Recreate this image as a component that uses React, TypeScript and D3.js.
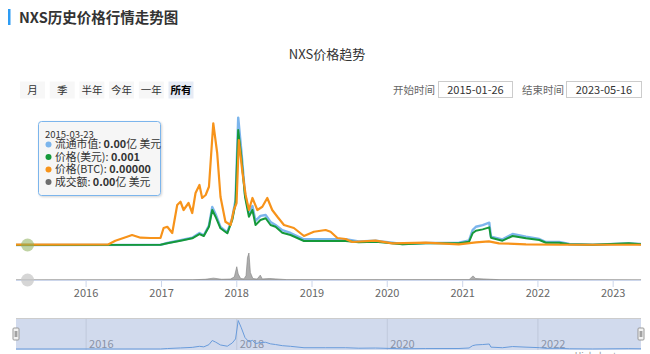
import * as d3 from 'd3';

const capUsdM: [string, number][] = [
  ['2015-01-26', 0.05], ['2016-12-27', 0.4], ['2017-01-29', 8.3], ['2017-04-03', 19.6],
  ['2017-05-30', 30], ['2017-07-04', 50], ['2017-07-25', 40], ['2017-08-19', 81],
  ['2017-09-04', 158], ['2017-09-20', 129], ['2017-10-14', 75], ['2017-11-16', 52],
  ['2017-12-10', 112], ['2017-12-26', 187], ['2018-01-08', 530], ['2018-01-23', 395],
  ['2018-02-10', 212], ['2018-03-01', 133], ['2018-03-18', 162], ['2018-04-02', 100],
  ['2018-04-26', 121], ['2018-05-21', 125], ['2018-06-14', 96], ['2018-07-08', 83],
  ['2018-08-10', 62], ['2018-09-19', 50], ['2018-11-23', 23.7], ['2019-03-08', 23.7],
  ['2019-06-13', 23.7], ['2019-08-16', 14.6], ['2019-11-05', 17.9], ['2020-03-15', 4.2],
  ['2020-07-06', 8.3], ['2020-12-14', 9.2], ['2021-02-01', 18.7], ['2021-02-18', 62],
  ['2021-03-06', 76], ['2021-04-08', 83], ['2021-05-10', 93], ['2021-05-18', 34.5],
  ['2021-07-13', 23.7], ['2021-08-31', 45.8], ['2021-11-04', 34.5], ['2022-01-08', 25],
  ['2022-02-09', 12.5], ['2022-04-14', 12.5], ['2022-06-02', 4.2], ['2022-09-24', 0.8],
  ['2023-03-18', 6.2], ['2023-05-16', 4.2],
];

const priceUsd: [string, number][] = [
  ['2015-01-26', 0.001], ['2016-12-27', 0.01], ['2017-01-29', 0.109], ['2017-04-03', 0.275],
  ['2017-05-30', 0.43], ['2017-07-04', 0.7], ['2017-07-25', 0.576], ['2017-08-19', 1.17],
  ['2017-09-04', 2.24], ['2017-09-20', 1.81], ['2017-10-14', 1.07], ['2017-11-16', 0.749],
  ['2017-12-10', 1.6], ['2017-12-26', 2.67], ['2018-01-08', 7.36], ['2018-01-23', 5.65],
  ['2018-02-10', 3.09], ['2018-03-01', 1.81], ['2018-03-18', 2.24], ['2018-04-02', 1.28],
  ['2018-04-26', 1.6], ['2018-05-21', 1.71], ['2018-06-14', 1.28], ['2018-07-08', 1.17],
  ['2018-08-10', 0.787], ['2018-09-19', 0.64], ['2018-11-23', 0.256], ['2019-03-08', 0.256],
  ['2019-06-13', 0.256], ['2019-08-16', 0.173], ['2019-11-05', 0.211], ['2020-03-15', 0.045],
  ['2020-07-06', 0.109], ['2020-12-14', 0.109], ['2021-02-01', 0.211], ['2021-02-18', 0.749],
  ['2021-03-06', 0.915], ['2021-04-08', 1.0], ['2021-05-10', 1.13], ['2021-05-18', 0.467],
  ['2021-07-13', 0.275], ['2021-08-31', 0.576], ['2021-11-04', 0.43], ['2022-01-08', 0.32],
  ['2022-02-09', 0.147], ['2022-04-14', 0.147], ['2022-06-02', 0.045], ['2022-09-24', 0.01],
  ['2023-03-18', 0.109], ['2023-05-16', 0.045],
];

const priceBtc: [string, number][] = [
  ['2015-01-26', 0.000003], ['2016-04-17', 0.000004], ['2016-05-22', 0.0000344],
  ['2016-07-18', 0.0000664], ['2016-08-11', 0.00008], ['2016-09-21', 0.0000584],
  ['2016-11-08', 0.000056], ['2016-12-27', 0.000056], ['2017-01-11', 0.000136],
  ['2017-01-29', 0.000146], ['2017-02-22', 0.000096], ['2017-03-18', 0.00032],
  ['2017-04-03', 0.000346], ['2017-04-18', 0.00028], ['2017-05-12', 0.000336],
  ['2017-05-30', 0.000256], ['2017-06-15', 0.000416], ['2017-07-04', 0.00048],
  ['2017-07-17', 0.000376], ['2017-08-03', 0.0004], ['2017-08-19', 0.000466],
  ['2017-09-09', 0.000974], ['2017-09-28', 0.000736], ['2017-10-14', 0.000386],
  ['2017-11-07', 0.000186], ['2017-12-02', 0.00016], ['2017-12-18', 0.00028],
  ['2017-12-31', 0.000336], ['2018-01-11', 0.00084], ['2018-01-28', 0.000586],
  ['2018-02-13', 0.0004], ['2018-03-01', 0.00028], ['2018-03-18', 0.000376],
  ['2018-04-11', 0.00028], ['2018-05-05', 0.000306], ['2018-05-29', 0.000376],
  ['2018-06-22', 0.00028], ['2018-07-17', 0.000226], ['2018-08-18', 0.00016],
  ['2018-10-05', 0.000136], ['2018-11-23', 0.000072], ['2019-01-10', 0.000106],
  ['2019-03-08', 0.00012], ['2019-04-01', 0.000106], ['2019-05-04', 0.000056],
  ['2019-06-13', 0.000048], ['2019-07-15', 0.000024], ['2019-11-05', 0.0000344],
  ['2020-01-26', 0.0000136], ['2020-07-06', 0.0000184], ['2020-12-13', 0.0000056],
  ['2021-03-06', 0.0000216], ['2021-05-08', 0.0000296], ['2021-06-26', 0.0000136],
  ['2021-11-04', 0.0000056], ['2022-04-12', 0.000002], ['2023-05-16', 0.000002],
];

const volumeUsdM: [string, number][] = [
  ['2015-01-26', 0], ['2017-06-01', 0.3], ['2017-08-01', 1], ['2017-09-10', 2.5],
  ['2017-10-20', 1], ['2017-12-01', 1.3], ['2017-12-20', 4], ['2018-01-01', 17.7],
  ['2018-01-08', 8], ['2018-01-20', 2], ['2018-02-05', 1.5], ['2018-02-15', 6],
  ['2018-02-22', 30], ['2018-03-01', 36], ['2018-03-08', 10], ['2018-03-20', 2],
  ['2018-04-10', 1.3], ['2018-04-25', 6.5], ['2018-05-05', 1.5], ['2018-06-10', 2],
  ['2018-07-10', 1.5], ['2018-09-01', 0.5], ['2019-06-01', 0.3], ['2021-02-01', 0.5],
  ['2021-02-20', 5.5], ['2021-03-05', 2], ['2021-04-10', 1.5], ['2021-05-15', 1],
  ['2021-07-01', 0.4], ['2022-03-01', 0.2], ['2023-05-16', 0.1],
];

const yearTicks = [2016, 2017, 2018, 2019, 2020, 2021, 2022, 2023];
const navTicks = [2016, 2018, 2020, 2022];
const rangeButtons = ['月', '季', '半年', '今年', '一年', '所有'];
const startDate = '2015-01-26';
const endDate = '2023-05-16';

const tooltipDate = '2015-03-23';
const tooltipRows = [
  { color: '#7cb5ec', label: '流通市值: ', value: '0.00', unit: '亿 美元' },
  { color: '#15993a', label: '价格(美元): ', value: '0.001', unit: '' },
  { color: '#f7931a', label: '价格(BTC): ', value: '0.00000', unit: '' },
  { color: '#6e6e6e', label: '成交额: ', value: '0.00', unit: '亿 美元' },
];

const FONT = '"Noto Sans CJK SC", "Noto Sans", sans-serif';

const parse = d3.timeParse('%Y-%m-%d');

export default function App() {
  const x = d3.scaleTime().domain([parse(startDate)!, parse(endDate)!]).range([16, 641]);
  const yCap = d3.scaleLinear().domain([0, 520]).range([245, 120]);
  const yUsd = d3.scaleLinear().domain([0, 8]).range([245, 120]);
  const yBtc = d3.scaleLinear().domain([0, 0.001]).range([245, 120]);
  const yVol = d3.scaleLinear().domain([0, 40]).range([280, 250]);
  const yNav = d3.scaleLinear().domain([0, 540]).range([349, 320]);

  const mkLine = (y: d3.ScaleLinear<number, number>) =>
    d3.line<[string, number]>().x(d => x(parse(d[0])!)).y(d => y(d[1]));

  const volArea = d3.area<[string, number]>()
    .x(d => x(parse(d[0])!))
    .y0(yVol(0))
    .y1(d => yVol(d[1]));

  const hoverX = x(parse(tooltipDate)!);
  const yearX = (yr: number) => x(new Date(yr, 0, 1));

  return (
    <svg width={650} height={354} style={{ position: 'absolute', left: 0, top: 0 }} fontFamily={FONT}>
      <defs>
        <filter id="tipShadow" x="-10%" y="-10%" width="130%" height="130%">
          <feDropShadow dx="1" dy="1" stdDeviation="1.2" floodColor="#000" floodOpacity="0.18" />
        </filter>
        <clipPath id="plotClip">
          <rect x={16} y={100} width={626} height={182} />
        </clipPath>
      </defs>
      <rect width={650} height={354} fill="#fff" />

      {/* page heading */}
      <rect x={8} y={9} width={2.5} height={16} fill="#2d9cf4" />
      <text x={19} y={22.5} fontSize={14.5} fontWeight="bold" fill="#333">NXS历史价格行情走势图</text>

      <text x={327} y={58.5} fontSize={13} fill="#333" textAnchor="middle">NXS价格趋势</text>

      {/* range selector */}
      {rangeButtons.map((b, i) => {
        const bx = 20 + i * 29.7;
        const sel = i === rangeButtons.length - 1;
        return (
          <g key={b}>
            <rect x={bx} y={81.5} width={25} height={17} fill={sel ? '#e6ebf5' : '#f7f7f7'} />
            <text x={bx + 12.5} y={93.8} fontSize={10.5} textAnchor="middle" fill={sel ? '#000' : '#333'} fontWeight={sel ? 'bold' : 'normal'}>{b}</text>
          </g>
        );
      })}

      <text x={393} y={93.8} fontSize={10.5} fill="#666">开始时间</text>
      <rect x={438.5} y={81.5} width={74} height={16} fill="#fff" stroke="#ccc" />
      <text x={475.5} y={93.6} fontSize={11} fill="#333" textAnchor="middle">{startDate}</text>
      <text x={522} y={93.8} fontSize={10.5} fill="#666">结束时间</text>
      <rect x={566.5} y={81.5} width={75} height={16} fill="#fff" stroke="#ccc" />
      <text x={604} y={93.6} fontSize={11} fill="#333" textAnchor="middle">{endDate}</text>

      {/* price + volume panes */}
      <g clipPath="url(#plotClip)">
        <path d={volArea(volumeUsdM) || ''} fill="#8a8a8a" fillOpacity={0.7} stroke="#808080" strokeWidth={0.6} />
        <path d={mkLine(yCap)(capUsdM) || ''} fill="none" stroke="#7cb5ec" strokeWidth={2.4} strokeLinejoin="round" />
        <path d={mkLine(yUsd)(priceUsd) || ''} fill="none" stroke="#15993a" strokeWidth={2} strokeLinejoin="round" />
        <path d={mkLine(yBtc)(priceBtc) || ''} fill="none" stroke="#f7931a" strokeWidth={2.2} strokeLinejoin="round" />
      </g>

      {/* x axis */}
      <line x1={16} x2={641} y1={280.5} y2={280.5} stroke="#ccd6eb" />
      {yearTicks.map(yr => (
        <g key={yr}>
          <line x1={yearX(yr)} x2={yearX(yr)} y1={280.5} y2={287} stroke="#ccd6eb" />
          <text x={yearX(yr)} y={297} fontSize={11} fill="#666" textAnchor="middle">{yr}</text>
        </g>
      ))}

      {/* hover markers */}
      <circle cx={hoverX} cy={yUsd(0.001)} r={6.5} fill="#8cae5a" fillOpacity={0.55} />
      <circle cx={hoverX} cy={yVol(0)} r={6.5} fill="#c8c8c8" fillOpacity={0.75} />

      {/* tooltip */}
      <g>
        <rect x={38.5} y={121.5} width={122} height={74} rx={3} fill="#f7f7f7" fillOpacity={0.92} stroke="#7cb5ec" filter="url(#tipShadow)" />
        <text x={45} y={137.5} fontSize={9.5} fill="#333">{tooltipDate}</text>
        {tooltipRows.map((r, i) => (
          <g key={r.label}>
            <circle cx={48.5} cy={144.5 + i * 12.5} r={3} fill={r.color} />
            <text x={55} y={148.3 + i * 12.5} fontSize={10.8} fill="#333">
              {r.label}
              <tspan fontWeight="bold">{r.value}</tspan>
              {r.unit}
            </text>
          </g>
        ))}
      </g>

      {/* navigator */}
      <rect x={16} y={318} width={625} height={32} fill="#fff" />
      {navTicks.map(yr => (
        <g key={yr}>
          <line x1={yearX(yr)} x2={yearX(yr)} y1={318} y2={350} stroke="#e6e6e6" />
          <text x={yearX(yr) + 3} y={347.5} fontSize={11} fill="#999">{yr}</text>
        </g>
      ))}
      <path d={mkLine(yNav)(capUsdM) || ''} fill="none" stroke="#6ba6e6" strokeWidth={1} />
      <rect x={16} y={318} width={625} height={32} fill="rgba(102,133,194,0.3)" />
      <line x1={16} x2={641} y1={318.5} y2={318.5} stroke="#ccc" />
      {[16, 641].map(hx => (
        <g key={hx}>
          <rect x={hx - 3} y={328} width={6} height={12} rx={1} fill="#f2f2f2" stroke="#999" />
          <line x1={hx - 0.8} x2={hx - 0.8} y1={331} y2={337} stroke="#333" strokeWidth={0.6} />
          <line x1={hx + 0.8} x2={hx + 0.8} y1={331} y2={337} stroke="#333" strokeWidth={0.6} />
        </g>
      ))}
      <text x={641} y={359} fontSize={9} fill="#999" textAnchor="end">Highcharts.com</text>
    </svg>
  );
}
